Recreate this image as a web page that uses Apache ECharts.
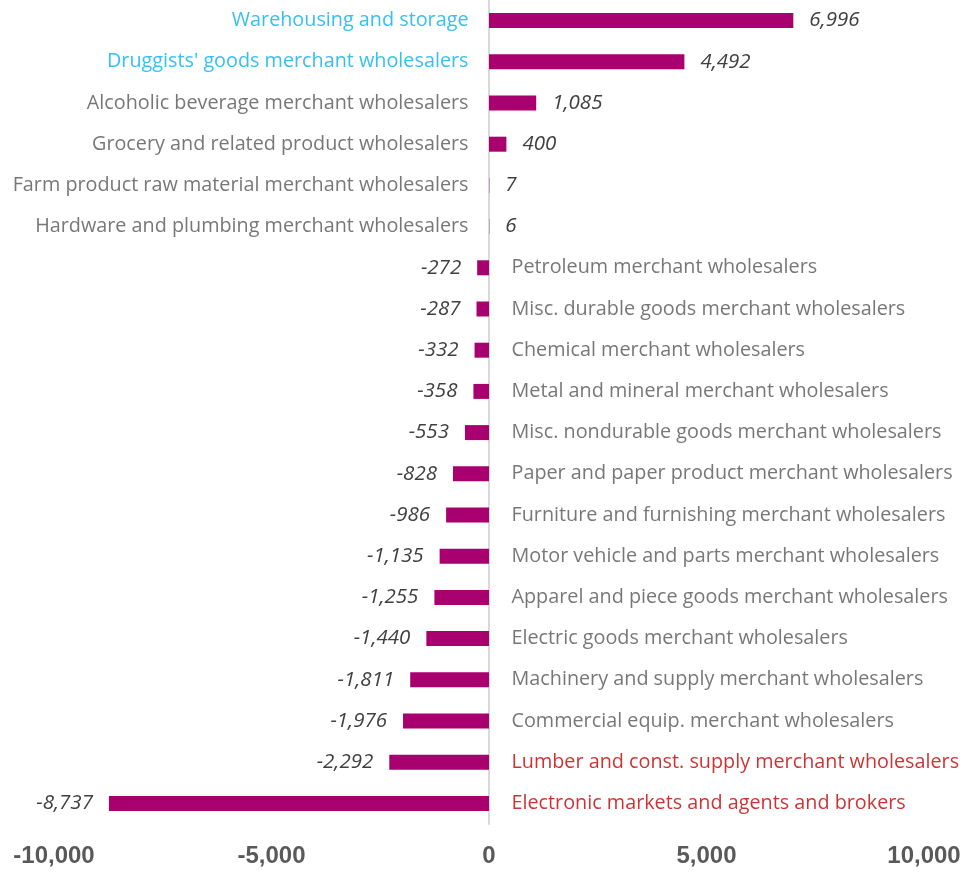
<!DOCTYPE html>
<html>
<head>
<meta charset="utf-8">
<script src="https://cdn.jsdelivr.net/npm/echarts@6/dist/echarts.min.js"></script>
<style>
  html, body { margin: 0; padding: 0; background: #fff; }
  #chart { width: 965px; height: 873px; }
</style>
</head>
<body>
<div id="chart"></div>
<script>
// categories, top to bottom
const categories = [
  "Warehousing and storage",
  "Druggists' goods merchant wholesalers",
  "Alcoholic beverage merchant wholesalers",
  "Grocery and related product wholesalers",
  "Farm product raw material merchant wholesalers",
  "Hardware and plumbing merchant wholesalers",
  "Petroleum merchant wholesalers",
  "Misc. durable goods merchant wholesalers",
  "Chemical merchant wholesalers",
  "Metal and mineral merchant wholesalers",
  "Misc. nondurable goods merchant wholesalers",
  "Paper and paper product merchant wholesalers",
  "Furniture and furnishing merchant wholesalers",
  "Motor vehicle and parts merchant wholesalers",
  "Apparel and piece goods merchant wholesalers",
  "Electric goods merchant wholesalers",
  "Machinery and supply merchant wholesalers",
  "Commercial equip. merchant wholesalers",
  "Lumber and const. supply merchant wholesalers",
  "Electronic markets and agents and brokers"
];
const values = [6996, 4492, 1085, 400, 7, 6, -272, -287, -332, -358, -553, -828, -986,
  -1135, -1255, -1440, -1811, -1976, -2292, -8737];
// label colour group: top gainers blue, biggest losers red
const highlightUp = ["Warehousing and storage", "Druggists' goods merchant wholesalers"];
const highlightDown = ["Lumber and const. supply merchant wholesalers", "Electronic markets and agents and brokers"];
const xTicks = [-10000, -5000, 0, 5000, 10000];

const FONT = "'Open Sans', sans-serif";
const fmt = v => v.toLocaleString('en-US');

const chart = echarts.init(document.getElementById('chart'));

const barData = values.map(v => ({
  value: v,
  label: {
    show: true,
    position: v >= 0 ? 'right' : 'left',
    distance: 16,
    formatter: fmt(v),
    fontFamily: FONT,
    fontStyle: 'italic',
    fontSize: 20.5,
    color: '#404040'
  }
}));

// category names sit next to the zero line, opposite side of the bar
const nameData = categories.map((c, i) => {
  const pos = values[i] >= 0;
  let color = '#555555';
  if (highlightUp.includes(c)) color = '#00B0F0';
  if (highlightDown.includes(c)) color = '#C00000';
  return {
    value: [0, i],
    label: {
      show: true,
      position: pos ? 'left' : 'right',
      distance: pos ? 20 : 22,
      formatter: c,
      fontFamily: FONT,
      fontSize: 19.8,
      color: color
    }
  };
});

const options = {
  animation: false,
  grid: { left: 54, right: 41, top: -3, bottom: 49, containLabel: false },
  xAxis: {
    type: 'value',
    min: xTicks[0],
    max: xTicks[xTicks.length - 1],
    interval: 5000,
    axisLine: { show: false },
    axisTick: { show: false },
    splitLine: { show: false },
    axisLabel: {
      margin: 20,
      formatter: v => fmt(v),
      fontFamily: "'Liberation Sans Narrow', 'Liberation Sans', sans-serif",
      fontWeight: 'bold',
      fontSize: 24,
      color: '#595959'
    }
  },
  yAxis: {
    type: 'category',
    data: categories,
    inverse: true,
    axisLine: { show: true, onZero: true, lineStyle: { color: '#d9d9d9', width: 2 } },
    axisTick: { show: false },
    axisLabel: { show: false }
  },
  series: [
    {
      type: 'bar',
      data: barData,
      barWidth: 15,
      itemStyle: { color: '#A8006F' }
    },
    {
      type: 'scatter',
      data: nameData,
      symbolSize: 1,
      itemStyle: { color: 'rgba(0,0,0,0)' },
      silent: true
    }
  ]
};

chart.setOption(options);
</script>
</body>
</html>
